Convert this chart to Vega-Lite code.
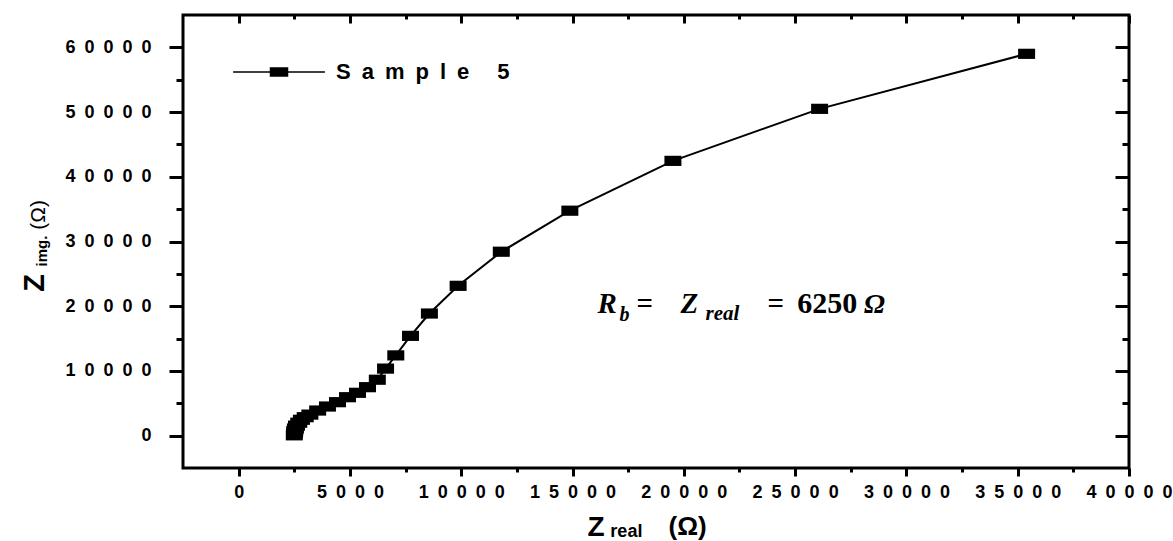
{
  "$schema": "https://vega.github.io/schema/vega-lite/v6.json",
  "width": 946,
  "height": 453,
  "autosize": "none",
  "padding": {"left": 183, "top": 15, "right": 44, "bottom": 73},
  "background": "white",
  "config": {
    "view": {"stroke": "black", "strokeWidth": 3},
    "axis": {"grid": false, "domain": false, "tickColor": "black", "tickWidth": 3, "labelColor": "black", "labelFont": "Liberation Sans", "labelFontWeight": "bold", "labelFontSize": 18, "labelOverlap": false, "labelFlush": false, "labelBound": false}
  },
  "data": {
    "values": [
      {"idx": 1, "zreal": 2500, "zimg": 50, "series": "Sample 5"},
      {"idx": 2, "zreal": 2510, "zimg": 350, "series": "Sample 5"},
      {"idx": 3, "zreal": 2520, "zimg": 700, "series": "Sample 5"},
      {"idx": 4, "zreal": 2550, "zimg": 1100, "series": "Sample 5"},
      {"idx": 5, "zreal": 2600, "zimg": 1550, "series": "Sample 5"},
      {"idx": 6, "zreal": 2700, "zimg": 2000, "series": "Sample 5"},
      {"idx": 7, "zreal": 2820, "zimg": 2450, "series": "Sample 5"},
      {"idx": 8, "zreal": 2990, "zimg": 2850, "series": "Sample 5"},
      {"idx": 9, "zreal": 3200, "zimg": 3250, "series": "Sample 5"},
      {"idx": 10, "zreal": 3550, "zimg": 3880, "series": "Sample 5"},
      {"idx": 11, "zreal": 3990, "zimg": 4500, "series": "Sample 5"},
      {"idx": 12, "zreal": 4440, "zimg": 5170, "series": "Sample 5"},
      {"idx": 13, "zreal": 4890, "zimg": 5940, "series": "Sample 5"},
      {"idx": 14, "zreal": 5340, "zimg": 6620, "series": "Sample 5"},
      {"idx": 15, "zreal": 5790, "zimg": 7490, "series": "Sample 5"},
      {"idx": 16, "zreal": 6230, "zimg": 8640, "series": "Sample 5"},
      {"idx": 17, "zreal": 6600, "zimg": 10360, "series": "Sample 5"},
      {"idx": 18, "zreal": 7060, "zimg": 12400, "series": "Sample 5"},
      {"idx": 19, "zreal": 7720, "zimg": 15420, "series": "Sample 5"},
      {"idx": 20, "zreal": 8570, "zimg": 18870, "series": "Sample 5"},
      {"idx": 21, "zreal": 9860, "zimg": 23150, "series": "Sample 5"},
      {"idx": 22, "zreal": 11800, "zimg": 28420, "series": "Sample 5"},
      {"idx": 23, "zreal": 14880, "zimg": 34760, "series": "Sample 5"},
      {"idx": 24, "zreal": 19510, "zimg": 42460, "series": "Sample 5"},
      {"idx": 25, "zreal": 26100, "zimg": 50500, "series": "Sample 5"},
      {"idx": 26, "zreal": 35400, "zimg": 59000, "series": "Sample 5"}
    ]
  },
  "resolve": {"axis": {"x": "independent", "y": "independent"}},
  "layer": [
    {
      "mark": {"type": "line", "color": "black", "strokeWidth": 2},
      "encoding": {
        "x": {"field": "zreal", "type": "quantitative", "scale": {"domain": [-2500, 40000], "nice": false, "zero": false},
          "axis": {"orient": "bottom", "title": null, "format": "d",
            "values": [0, 2500, 5000, 7500, 10000, 12500, 15000, 17500, 20000, 22500, 25000, 27500, 30000, 32500, 35000, 37500, 40000],
            "tickSize": {"condition": {"test": "datum.value % 5000 === 0", "value": 8}, "value": 4},
            "labelPadding": 7,
            "labelExpr": "datum.value % 5000 === 0 ? join(split(datum.label, ''), '\u2002') : ''"}},
        "y": {"field": "zimg", "type": "quantitative", "scale": {"domain": [-5000, 65000], "nice": false, "zero": false},
          "axis": {"orient": "left", "title": null, "format": "d",
            "values": [0, 5000, 10000, 15000, 20000, 25000, 30000, 35000, 40000, 45000, 50000, 55000, 60000],
            "tickSize": {"condition": {"test": "datum.value % 10000 === 0", "value": 14}, "value": 7},
            "labelPadding": 18,
            "labelExpr": "datum.value % 10000 === 0 ? join(split(datum.label, ''), '\u2002') : ''"}},
        "order": {"field": "idx", "type": "quantitative"}
      }
    },
    {
      "mark": {"type": "point", "filled": true, "shape": "M-1,-0.6L1,-0.6L1,0.6L-1,0.6Z", "size": 289, "opacity": 1},
      "encoding": {
        "x": {"field": "zreal", "type": "quantitative",
          "axis": {"orient": "top", "title": null, "labels": false,
            "values": [0, 2500, 5000, 7500, 10000, 12500, 15000, 17500, 20000, 22500, 25000, 27500, 30000, 32500, 35000, 37500, 40000],
            "tickSize": {"condition": {"test": "datum.value % 5000 === 0", "value": -8}, "value": -4}}},
        "y": {"field": "zimg", "type": "quantitative",
          "axis": {"orient": "right", "title": null, "labels": false,
            "values": [0, 5000, 10000, 15000, 20000, 25000, 30000, 35000, 40000, 45000, 50000, 55000, 60000],
            "tickSize": {"condition": {"test": "datum.value % 10000 === 0", "value": -14}, "value": -7}}},
        "color": {"field": "series", "type": "nominal", "scale": {"range": ["black"]},
          "legend": {"orient": "none", "legendX": 85, "legendY": 46, "title": null, "padding": 0,
            "symbolType": "M-5.4,0L-1,0M1,0L5.4,0M-1,-0.47L1,-0.47L1,0.47L-1,0.47Z",
            "symbolSize": 289, "symbolStrokeColor": "black", "symbolStrokeWidth": 1.5, "symbolFillColor": "black",
            "labelFont": "Liberation Sans", "labelFontWeight": "bold", "labelFontSize": 22, "labelColor": "black", "labelOffset": 46, "labelLimit": 0,
            "labelExpr": "join(split(datum.label, ''), '\u2002')",
            "encode": {"symbols": {"update": {"stroke": {"value": "black"}, "strokeWidth": {"value": 1.5}, "fill": {"value": "black"}}}}}}
      }
    },
    {
      "data": {"values": [{}]},
      "mark": {"type": "text", "text": "Z", "font": "Liberation Sans", "fontWeight": "bold", "fontSize": 28, "align": "left", "baseline": "alphabetic", "color": "black"},
      "encoding": {"x": {"datum": 15677, "type": "quantitative", "axis": null}, "y": {"datum": -15504, "type": "quantitative", "axis": null}}
    },
    {
      "data": {"values": [{}]},
      "mark": {"type": "text", "text": "real", "font": "Liberation Sans", "fontWeight": "bold", "fontSize": 18, "align": "left", "baseline": "alphabetic", "color": "black"},
      "encoding": {"x": {"datum": 16700, "type": "quantitative", "axis": null}, "y": {"datum": -15600, "type": "quantitative", "axis": null}}
    },
    {
      "data": {"values": [{}]},
      "mark": {"type": "text", "text": "(Ω)", "font": "Liberation Sans", "fontWeight": "bold", "fontSize": 26, "align": "left", "baseline": "alphabetic", "color": "black"},
      "encoding": {"x": {"datum": 19312, "type": "quantitative", "axis": null}, "y": {"datum": -15349, "type": "quantitative", "axis": null}}
    },
    {
      "data": {"values": [{}]},
      "mark": {"type": "text", "text": "Z", "font": "Liberation Sans Narrow, Liberation Sans", "fontWeight": "bold", "fontSize": 29, "angle": 270, "align": "center", "baseline": "alphabetic", "color": "black"},
      "encoding": {"x": {"datum": -8738, "type": "quantitative", "axis": null}, "y": {"datum": 23600, "type": "quantitative", "axis": null}}
    },
    {
      "data": {"values": [{}]},
      "mark": {"type": "text", "text": "img.", "font": "Liberation Sans Narrow, Liberation Sans", "fontWeight": "bold", "fontSize": 15, "angle": 270, "align": "center", "baseline": "alphabetic", "color": "black"},
      "encoding": {"x": {"datum": -8626, "type": "quantitative", "axis": null}, "y": {"datum": 28527, "type": "quantitative", "axis": null}}
    },
    {
      "data": {"values": [{}]},
      "mark": {"type": "text", "text": "(Ω)", "font": "Liberation Sans Narrow, Liberation Sans", "fontWeight": "normal", "fontSize": 21, "angle": 270, "align": "center", "baseline": "alphabetic", "color": "black"},
      "encoding": {"x": {"datum": -8693, "type": "quantitative", "axis": null}, "y": {"datum": 34109, "type": "quantitative", "axis": null}}
    },
    {
      "data": {"values": [{}]},
      "mark": {"type": "text", "text": "R", "font": "Liberation Serif", "fontWeight": "bold", "fontStyle": "italic", "fontSize": 29, "align": "left", "baseline": "alphabetic", "color": "black"},
      "encoding": {"x": {"datum": 16126, "type": "quantitative", "axis": null}, "y": {"datum": 18915, "type": "quantitative", "axis": null}}
    },
    {
      "data": {"values": [{}]},
      "mark": {"type": "text", "text": "b", "font": "Liberation Serif", "fontWeight": "bold", "fontStyle": "italic", "fontSize": 20, "align": "left", "baseline": "alphabetic", "color": "black"},
      "encoding": {"x": {"datum": 17113, "type": "quantitative", "axis": null}, "y": {"datum": 17674, "type": "quantitative", "axis": null}}
    },
    {
      "data": {"values": [{}]},
      "mark": {"type": "text", "text": "=", "font": "Liberation Serif", "fontWeight": "bold", "fontSize": 29, "align": "left", "baseline": "alphabetic", "color": "black"},
      "encoding": {"x": {"datum": 17876, "type": "quantitative", "axis": null}, "y": {"datum": 18915, "type": "quantitative", "axis": null}}
    },
    {
      "data": {"values": [{}]},
      "mark": {"type": "text", "text": "Z", "font": "Liberation Serif", "fontWeight": "bold", "fontStyle": "italic", "fontSize": 29, "align": "left", "baseline": "alphabetic", "color": "black"},
      "encoding": {"x": {"datum": 19850, "type": "quantitative", "axis": null}, "y": {"datum": 18915, "type": "quantitative", "axis": null}}
    },
    {
      "data": {"values": [{}]},
      "mark": {"type": "text", "text": "real", "font": "Liberation Serif", "fontWeight": "bold", "fontStyle": "italic", "fontSize": 21, "align": "left", "baseline": "alphabetic", "color": "black"},
      "encoding": {"x": {"datum": 20972, "type": "quantitative", "axis": null}, "y": {"datum": 17829, "type": "quantitative", "axis": null}}
    },
    {
      "data": {"values": [{}]},
      "mark": {"type": "text", "text": "=", "font": "Liberation Serif", "fontWeight": "bold", "fontSize": 29, "align": "left", "baseline": "alphabetic", "color": "black"},
      "encoding": {"x": {"datum": 23763, "type": "quantitative", "axis": null}, "y": {"datum": 18915, "type": "quantitative", "axis": null}}
    },
    {
      "data": {"values": [{}]},
      "mark": {"type": "text", "text": "6250", "font": "Liberation Serif", "fontWeight": "bold", "fontSize": 30, "align": "left", "baseline": "alphabetic", "color": "black"},
      "encoding": {"x": {"datum": 25101, "type": "quantitative", "axis": null}, "y": {"datum": 18915, "type": "quantitative", "axis": null}}
    },
    {
      "data": {"values": [{}]},
      "mark": {"type": "text", "text": "Ω", "font": "Liberation Serif", "fontWeight": "bold", "fontStyle": "italic", "fontSize": 28, "align": "left", "baseline": "alphabetic", "color": "black"},
      "encoding": {"x": {"datum": 28100, "type": "quantitative", "axis": null}, "y": {"datum": 18915, "type": "quantitative", "axis": null}}
    }
  ]
}
